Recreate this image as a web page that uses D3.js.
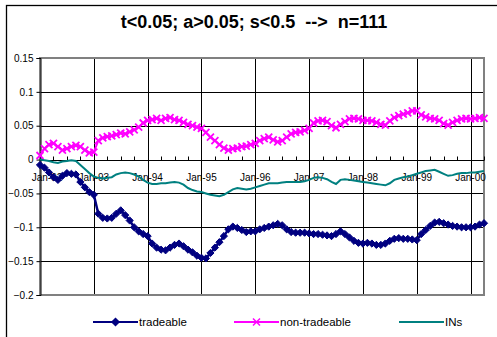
<!DOCTYPE html>
<html>
<head>
<meta charset="utf-8">
<script src="https://cdn.jsdelivr.net/npm/d3@7"></script>
<style>
  body { margin: 0; background: #fff; }
  text { font-family: "Liberation Sans", Arial, sans-serif; }
</style>
</head>
<body>
<div id="chart"></div>
<script>
// monthly values, Jan-92 .. Apr-00
var tradeable = [
  -0.008, -0.012, -0.019, -0.026, -0.030, -0.024, -0.020, -0.021, -0.022, -0.033,
  -0.041, -0.048, -0.052, -0.080, -0.086, -0.087, -0.086, -0.080, -0.075, -0.082,
  -0.090, -0.100, -0.106, -0.110, -0.113, -0.124, -0.130, -0.133, -0.134, -0.130,
  -0.126, -0.124, -0.128, -0.133, -0.137, -0.142, -0.145, -0.146, -0.138, -0.130,
  -0.122, -0.113, -0.103, -0.099, -0.101, -0.104, -0.107, -0.106, -0.106, -0.103,
  -0.101, -0.099, -0.097, -0.095, -0.097, -0.103, -0.107, -0.108, -0.108, -0.108,
  -0.109, -0.110, -0.110, -0.111, -0.112, -0.113, -0.110, -0.106, -0.110, -0.115,
  -0.120, -0.123, -0.124, -0.123, -0.124, -0.126, -0.126, -0.124, -0.120, -0.117,
  -0.116, -0.117, -0.117, -0.118, -0.119, -0.110, -0.104, -0.098, -0.093, -0.092,
  -0.094, -0.096, -0.098, -0.099, -0.100, -0.100, -0.100, -0.099, -0.096, -0.094
];
var nonTradeable = [
  0.006, 0.016, 0.022, 0.024, 0.019, 0.014, 0.016, 0.019, 0.021, 0.019,
  0.014, 0.010, 0.011, 0.028, 0.032, 0.034, 0.035, 0.037, 0.039, 0.038,
  0.041, 0.044, 0.048, 0.054, 0.058, 0.059, 0.061, 0.058, 0.061, 0.062,
  0.059, 0.058, 0.055, 0.052, 0.050, 0.048, 0.046, 0.040, 0.033, 0.028,
  0.022, 0.017, 0.014, 0.016, 0.017, 0.019, 0.020, 0.022, 0.024, 0.028,
  0.031, 0.033, 0.029, 0.026, 0.028, 0.033, 0.038, 0.040, 0.041, 0.043,
  0.046, 0.054, 0.057, 0.058, 0.056, 0.050, 0.047, 0.052, 0.056, 0.060,
  0.061, 0.060, 0.058, 0.058, 0.057, 0.055, 0.052, 0.051, 0.057, 0.062,
  0.065, 0.067, 0.069, 0.072, 0.072, 0.066, 0.063, 0.061, 0.060, 0.058,
  0.053, 0.051, 0.055, 0.058, 0.060, 0.061, 0.060, 0.061, 0.062, 0.061
];
var ins = [
  0.000, -0.001, -0.002, -0.004, -0.005, -0.003, -0.002, -0.001, -0.002, -0.008,
  -0.014, -0.020, -0.025, -0.027, -0.028, -0.027, -0.026, -0.022, -0.020, -0.019,
  -0.020, -0.022, -0.025, -0.030, -0.034, -0.036, -0.036, -0.035, -0.035, -0.034,
  -0.033, -0.034, -0.037, -0.042, -0.045, -0.047, -0.048, -0.050, -0.052, -0.053,
  -0.054, -0.052, -0.048, -0.044, -0.042, -0.043, -0.044, -0.043, -0.041, -0.039,
  -0.037, -0.035, -0.035, -0.035, -0.034, -0.033, -0.033, -0.033, -0.033, -0.032,
  -0.030, -0.027, -0.026, -0.027, -0.029, -0.033, -0.036, -0.030, -0.029, -0.030,
  -0.031, -0.032, -0.033, -0.034, -0.035, -0.036, -0.037, -0.038, -0.035, -0.030,
  -0.028, -0.026, -0.025, -0.023, -0.021, -0.019, -0.017, -0.016, -0.015, -0.018,
  -0.021, -0.024, -0.023, -0.021, -0.020, -0.020, -0.019, -0.019, -0.018, -0.017
];
var yearLabels = ["Jan-92", "Jan-93", "Jan-94", "Jan-95", "Jan-96", "Jan-97", "Jan-98", "Jan-99", "Jan-00"];
var yTicks = [0.15, 0.1, 0.05, 0, -0.05, -0.1, -0.15, -0.2];
var seriesNames = ["tradeable", "non-tradeable", "INs"];

var W = 497, H = 337;
var plot = { left: 40, right: 484, top: 58, bottom: 295 };

var svg = d3.select("#chart").append("svg")
    .attr("width", W)
    .attr("height", H);

svg.append("rect").attr("width", W).attr("height", H).attr("fill", "#fff");

// chart area border
svg.append("rect")
    .attr("x", 6.5).attr("y", 5.5)
    .attr("width", W + 10).attr("height", H + 10)
    .attr("fill", "none").attr("stroke", "#000").attr("stroke-width", 1.3);

// title (keep the double spaces)
svg.append("text")
    .attr("x", 254).attr("y", 28)
    .attr("text-anchor", "middle")
    .style("white-space", "pre")
    .attr("font-size", "18px").attr("font-weight", "bold")
    .text("t<0.05; a>0.05; s<0.5  -->  n=111");

var x = d3.scaleLinear().domain([0, tradeable.length - 1]).range([plot.left, plot.right]);
var y = d3.scaleLinear().domain([-0.2, 0.15]).range([plot.bottom, plot.top]);

// horizontal gridlines
svg.append("g").selectAll("line")
    .data(yTicks.filter(function (d) { return d > -0.2 && d < 0.15; }))
    .enter().append("line")
    .attr("x1", plot.left).attr("x2", plot.right)
    .attr("y1", function (d) { return Math.round(y(d)) + 0.5; })
    .attr("y2", function (d) { return Math.round(y(d)) + 0.5; })
    .attr("stroke", "#000").attr("stroke-width", 1);

// vertical gridlines every January
svg.append("g").selectAll("line")
    .data(yearLabels.slice(1))
    .enter().append("line")
    .attr("x1", function (d, i) { return Math.round(x((i + 1) * 12)) + 0.5; })
    .attr("x2", function (d, i) { return Math.round(x((i + 1) * 12)) + 0.5; })
    .attr("y1", plot.top).attr("y2", plot.bottom)
    .attr("stroke", "#000").attr("stroke-width", 1);

// plot border
svg.append("rect")
    .attr("x", plot.left).attr("y", plot.top)
    .attr("width", plot.right - plot.left).attr("height", plot.bottom - plot.top)
    .attr("fill", "none").attr("stroke", "#808080").attr("stroke-width", 2);

// y axis
var yAxis = svg.append("g").attr("transform", "translate(" + (plot.left + 0.5) + ",0)")
    .call(d3.axisLeft(y).tickValues(yTicks).tickSize(4)
        .tickFormat(function (d) { return d3.format("~g")(+d.toFixed(2)); }));
yAxis.select(".domain").attr("stroke", "#000");
yAxis.selectAll(".tick line").attr("stroke", "#000");
yAxis.selectAll("text").attr("font-size", "10px").attr("fill", "#000")
    .attr("font-family", "Liberation Sans, Arial, sans-serif").attr("x", -7);

// x axis sitting on zero
var y0 = Math.round(y(0)) + 0.5;
svg.append("line")
    .attr("x1", plot.left).attr("x2", plot.right)
    .attr("y1", y0).attr("y2", y0)
    .attr("stroke", "#000").attr("stroke-width", 1);
svg.append("g").selectAll("line")
    .data(d3.range(0, tradeable.length, 3))
    .enter().append("line")
    .attr("x1", function (d) { return Math.round(x(d)) + 0.5; })
    .attr("x2", function (d) { return Math.round(x(d)) + 0.5; })
    .attr("y1", y0 - 4).attr("y2", y0)
    .attr("stroke", "#000");
svg.append("g").selectAll("text")
    .data(yearLabels)
    .enter().append("text")
    .attr("x", function (d, i) { return x(i * 12) + (i === 0 ? 7 : 0); })
    .attr("y", y0 + 20)
    .attr("text-anchor", "middle")
    .attr("font-size", "10px")
    .text(function (d) { return d; });

// series
var line = function (vals) {
    return d3.line()
        .x(function (d, i) { return x(i); })
        .y(function (d) { return y(d); })(vals);
};

svg.append("path").attr("d", line(tradeable))
    .attr("fill", "none").attr("stroke", "#000080").attr("stroke-width", 2.5);
svg.append("g").selectAll("path")
    .data(tradeable)
    .enter().append("path")
    .attr("transform", function (d, i) { return "translate(" + x(i) + "," + y(d) + ")"; })
    .attr("d", "M0,-3.6L3.6,0L0,3.6L-3.6,0Z")
    .attr("fill", "#000080").attr("stroke", "#000080").attr("stroke-width", 1);

svg.append("path").attr("d", line(nonTradeable))
    .attr("fill", "none").attr("stroke", "#ff00ff").attr("stroke-width", 2);
svg.append("g").selectAll("path")
    .data(nonTradeable)
    .enter().append("path")
    .attr("transform", function (d, i) { return "translate(" + x(i) + "," + y(d) + ")"; })
    .attr("d", "M-3.5,-3.5L3.5,3.5M-3.5,3.5L3.5,-3.5")
    .attr("fill", "none").attr("stroke", "#ff00ff").attr("stroke-width", 1.8);

svg.append("path").attr("d", line(ins))
    .attr("fill", "none").attr("stroke", "#008080").attr("stroke-width", 2);

// legend
var legend = [
    { name: seriesNames[0], color: "#000080", x: 93, marker: "M0,-3.5L3.5,0L0,3.5L-3.5,0Z", fill: "#000080" },
    { name: seriesNames[1], color: "#ff00ff", x: 234, marker: "M-3.5,-3.5L3.5,3.5M-3.5,3.5L3.5,-3.5", fill: "none" },
    { name: seriesNames[2], color: "#008080", x: 399, marker: null }
];
var lg = svg.append("g").selectAll("g").data(legend).enter().append("g")
    .attr("transform", function (d) { return "translate(" + d.x + ",322)"; });
lg.append("line").attr("x1", 0).attr("x2", 45).attr("y1", 0).attr("y2", 0)
    .attr("stroke", function (d) { return d.color; }).attr("stroke-width", 2);
lg.filter(function (d) { return d.marker; }).append("path")
    .attr("transform", "translate(22.5,0)")
    .attr("d", function (d) { return d.marker; })
    .attr("fill", function (d) { return d.fill; })
    .attr("stroke", function (d) { return d.color; }).attr("stroke-width", 1.5);
lg.append("text").attr("x", 46).attr("y", 4)
    .attr("font-size", "11.5px")
    .text(function (d) { return d.name; });
</script>
</body>
</html>
